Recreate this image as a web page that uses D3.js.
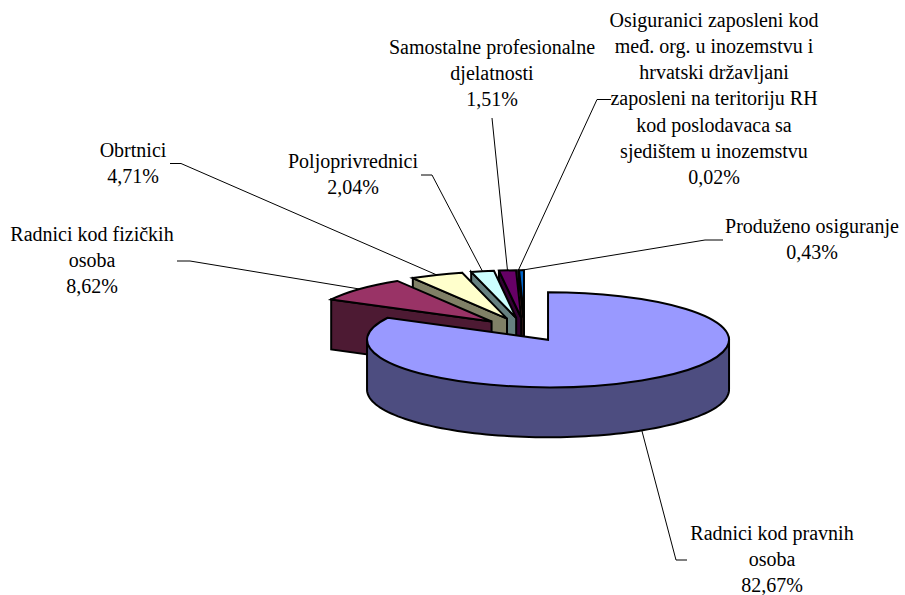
<!DOCTYPE html>
<html><head><meta charset="utf-8">
<script src="https://cdn.jsdelivr.net/npm/d3@7"></script>
<style>html,body{margin:0;padding:0;background:#fff}svg{display:block}text{font-family:"Liberation Serif",serif;font-size:20px;fill:#000;text-anchor:middle}</style>
</head><body><div id="chart"></div>
<script>
const categories = ["Radnici kod pravnih osoba","Radnici kod fizičkih osoba","Obrtnici","Poljoprivrednici","Samostalne profesionalne djelatnosti","Osiguranici zaposleni kod međ. org. u inozemstvu i hrvatski državljani zaposleni na teritoriju RH kod poslodavaca sa sjedištem u inozemstvu","Produženo osiguranje"];
const values = [82.67,8.62,4.71,2.04,1.51,0.02,0.43];
const valueLabels = ["82,67%","8,62%","4,71%","2,04%","1,51%","0,02%","0,43%"];
const labelLines = [
  ["Radnici kod pravnih","osoba"],
  ["Radnici kod fizičkih","osoba"],
  ["Obrtnici"],
  ["Poljoprivrednici"],
  ["Samostalne profesionalne","djelatnosti"],
  ["Osiguranici zaposleni kod","međ. org. u inozemstvu i","hrvatski državljani","zaposleni na teritoriju RH","kod poslodavaca sa","sjedištem u inozemstvu"],
  ["Produženo osiguranje"]
];
const topColors = ["#9999FF","#993366","#FFFFCC","#CCFFFF","#660066","#FF8080","#0066CC"];
const sideColors = ["#4D4D80","#4D1A33","#808066","#668080","#330033","#804040","#003366"];

// layout (separate from the data)
const W=905,H=595,CX=524.6,CY=329.6,RX=181,RY=47.5,DEPTH=50,EXPLODE=0.25,LH=26.2;
const labelPos=[[772,540],[92,241],[133,156.5],[353,168],[492,53.5],[714,26.7],[812,232.7]];
const elbows=[[[687,560],[676,560]],[[177,261],[190,261]],[[170,163.5],[181,163.5]],[[421,175],[432,175]],[[492,118]],[[611,99.5],[597,99.5]],[[723,240],[705,240]]];

const svg=d3.select("#chart").append("svg").attr("width",W).attr("height",H).attr("viewBox",[0,0,W,H]);
const pie=d3.pie().sort(null).value(d=>d);
const arcs=pie(values);
const arcGen=d3.arc().innerRadius(0).outerRadius(RX);
const pt=(a,c,dy=0)=>[c[0]+RX*Math.sin(a),c[1]-RY*Math.cos(a)+dy];
arcs.forEach(d=>{const m=(d.startAngle+d.endAngle)/2;d.mid=m;d.c=[CX+EXPLODE*RX*Math.sin(m),CY-EXPLODE*RY*Math.cos(m)];});
const line=d3.line();

// leader lines
const leaders=svg.append("g");
arcs.forEach((d,i)=>{
  const front=Math.cos(d.mid)<0;
  const anchor=pt(d.mid,d.c,front?DEPTH:0);
  leaders.append("path").attr("d",line([...elbows[i],anchor])).attr("fill","none").attr("stroke","#000").attr("stroke-width",1);
});

// slices, back to front
const slices=svg.append("g");
const stroke=s=>s.attr("stroke","#000").attr("stroke-width",2).attr("stroke-linejoin","miter").attr("stroke-miterlimit",4);
arcs.map((d,i)=>i).slice(1).reverse().concat([0]).forEach(i=>{
  const d=arcs[i];
  if(i===0){
    const pts=d3.range(Math.PI/2,3*Math.PI/2+0.001,Math.PI/90).map(a=>pt(a,d.c,DEPTH));
    const top=[pt(Math.PI/2,d.c),...pts,pt(3*Math.PI/2,d.c)];
    slices.append("path").attr("d",line(top)).attr("fill",sideColors[i]).call(stroke);
  } else {
    const o=pt(d.startAngle,d.c);
    slices.append("path").attr("d",line([d.c,o,[o[0],o[1]+DEPTH],[d.c[0],d.c[1]+DEPTH]])+"Z").attr("fill",sideColors[i]).call(stroke);
  }
  slices.append("path").attr("d",arcGen(d))
    .attr("transform",`translate(${d.c[0]},${d.c[1]}) scale(1,${RY/RX})`)
    .attr("vector-effect","non-scaling-stroke")
    .attr("fill",topColors[i]).call(stroke);
});

// labels
const labels=svg.append("g");
categories.forEach((c,i)=>{
  const t=labels.append("text").attr("aria-label",c);
  [...labelLines[i],valueLabels[i]].forEach((l,j)=>{
    t.append("tspan").attr("x",labelPos[i][0]).attr("y",labelPos[i][1]+j*LH).text(l);
  });
});
</script></body></html>
